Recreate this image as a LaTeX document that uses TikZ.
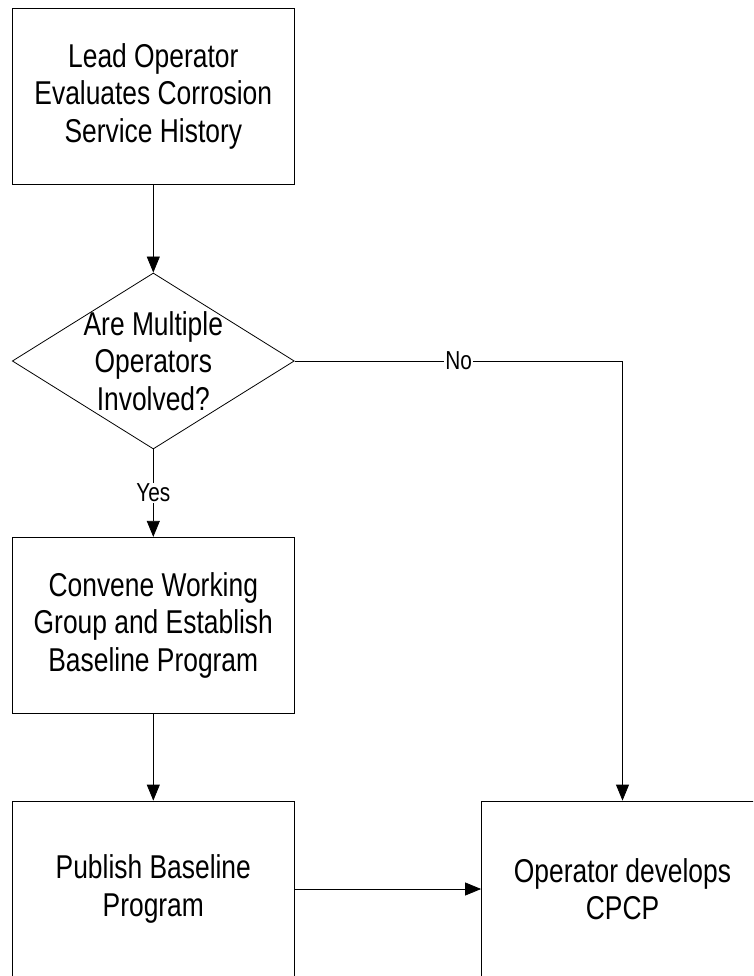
\documentclass[tikz,border=0pt]{standalone}
\usepackage{fontspec}
\setmainfont[FakeStretch=0.8]{Liberation Sans}
\usetikzlibrary{shapes.geometric,arrows.meta}
\tikzstyle{stepbox}=[rectangle,draw,line width=0.8pt,minimum width=282pt,minimum height=176pt,inner sep=0pt,align=center,font=\fontsize{33}{37.4}\selectfont]
\tikzstyle{decision}=[diamond,draw,line width=0.8pt,minimum width=282pt,minimum height=176pt,inner sep=0pt]
\tikzstyle{flow}=[draw,line width=0.8pt,-{Triangle[length=16pt,width=13pt]}]
\tikzstyle{answer}=[fill=white,inner sep=1pt,font=\fontsize{26}{30}\selectfont]
\begin{document}
\begin{tikzpicture}[x=1pt,y=1pt]
		% % % % % % % % % % % % % % % % % % % % % % % % % % % % %
		\clip (0,0) rectangle (753,-976);
		%*********************
		\node [stepbox] (lead) at (153.3,-96.3) {Lead Operator\\Evaluates Corrosion\\Service History};
		%*********************
		\node [decision] (multi) at (153.3,-361) {};
		\node [align=center,font=\fontsize{33}{37.4}\selectfont] (multitext) at (multi) {Are Multiple\\Operators\\Involved?};
		%*********************
		\node [stepbox] (convene) at (153.3,-625.3) {Convene Working\\Group and Establish\\Baseline Program};
		\node [stepbox] (publish) at (153.3,-889) {Publish Baseline\\Program};
		\node [stepbox] (develop) at (622.5,-889) {Operator develops\\CPCP};
		%*********************
		\coordinate (corner) at (multi.east -| develop);
		%*********************
		\path
		(lead) edge [flow] (multi)
		(multi) edge [flow] node [answer] {Yes} (convene)
		(convene) edge [flow] (publish)
		(publish) edge [flow] (develop)
		;
		\draw [line width=0.8pt] (multi.east) -- node [answer] {No} (corner);
		\draw [flow] (corner) -- (develop);
		%********************
\end{tikzpicture}
\end{document}
